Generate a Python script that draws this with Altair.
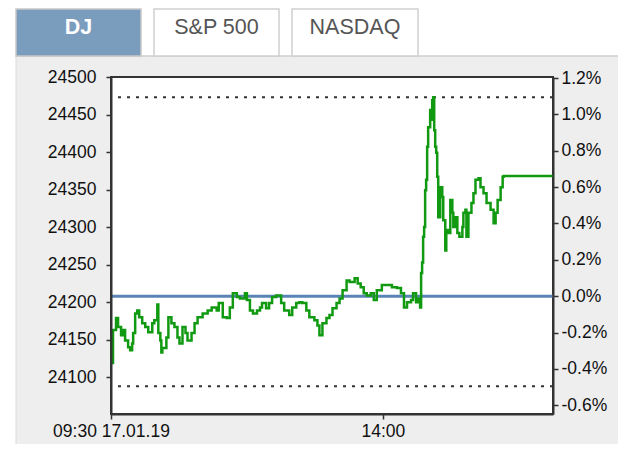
import altair as alt
import pandas as pd

# ---- data ----
minutes = [
    0, 1, 2, 5, 7, 10, 12, 14, 17, 19,
    21, 22, 24, 26, 28, 31, 34, 37, 41, 43,
    46, 47, 49, 50, 51, 55, 57, 60, 63, 66,
    68, 71, 74, 76, 80, 83, 86, 91, 96, 100,
    105, 107, 111, 115, 118, 121, 125, 128, 133, 135,
    138, 141, 145, 148, 150, 154, 157, 160, 164, 169,
    172, 177, 180, 184, 187, 190, 194, 197, 202, 205,
    207, 210, 214, 217, 220, 224, 227, 230, 234, 237,
    242, 245, 248, 251, 254, 258, 261, 264, 269, 274,
    279, 284, 288, 291, 294, 298, 300, 303, 305, 307,
    308, 309, 310, 311, 312, 313, 314, 315, 317, 318,
    319, 320, 321, 322, 323, 324, 325, 327, 329, 330,
    332, 333, 335, 337, 339, 340, 342, 344, 346, 349,
    350, 352, 353, 355, 358, 360, 362, 365, 367, 370,
    373, 377, 380, 382, 384, 387, 389, 390,
]
index_values = [
    24160, 24119, 24163, 24179, 24167, 24156, 24163, 24149, 24140, 24136,
    24145, 24159, 24185, 24189, 24180, 24172, 24167, 24160, 24172, 24176,
    24197, 24159, 24149, 24133, 24139, 24153, 24180, 24172, 24167, 24153,
    24145, 24167, 24159, 24149, 24159, 24172, 24180, 24185, 24189, 24193,
    24189, 24199, 24180, 24179, 24193, 24212, 24207, 24205, 24212, 24203,
    24189, 24185, 24189, 24193, 24199, 24192, 24199, 24207, 24209, 24199,
    24189, 24183, 24193, 24199, 24200, 24199, 24189, 24180, 24176, 24169,
    24156, 24172, 24179, 24183, 24192, 24199, 24205, 24216, 24229, 24227,
    24232, 24225, 24220, 24212, 24209, 24212, 24203, 24216, 24223, 24223,
    24220, 24219, 24212, 24193, 24200, 24203, 24212, 24200, 24205, 24193,
    24239, 24253, 24287, 24300, 24349, 24363, 24407, 24433, 24456, 24443,
    24469, 24473, 24429, 24407, 24399, 24367, 24313, 24353, 24340, 24309,
    24269, 24296, 24292, 24336, 24319, 24300, 24313, 24292, 24287, 24300,
    24319, 24323, 24287, 24319, 24332, 24345, 24363, 24365, 24353, 24345,
    24332, 24323, 24305, 24319, 24336, 24353, 24367, 24368,
]
base_value = 24208          # previous close (0.0 % line)
day_high = 24473
day_low = 24088
axis_end_minute = 439       # right end of the time axis
y_domain = [24051, 24500]
left_ticks = [24100, 24150, 24200, 24250, 24300, 24350, 24400, 24450, 24500]
pct_ticks = [-0.6, -0.4, -0.2, 0.0, 0.2, 0.4, 0.6, 0.8, 1.0, 1.2]
time_ticks = [0, 270]
time_labels = ["09:30 17.01.19", "14:00"]
tab_names = ["DJ", "S&P 500", "NASDAQ"]

# ---- build ----
W, H = 442, 337
FONT = "Liberation Sans"
LFS = 17.5
TXT = "#111111"

line_df = pd.DataFrame({
    "minute": minutes + [axis_end_minute],
    "value": index_values + [index_values[-1]],
})
levels_df = pd.DataFrame({"level": [day_high, day_low]})
pct_domain = [(y_domain[0] / base_value - 1) * 100, (y_domain[1] / base_value - 1) * 100]

one = pd.DataFrame({"k": [0]})


def box(x, x2, y, y2, fill, stroke=None, sw=1.5):
    kw = {"fill": fill}
    if stroke:
        kw.update(stroke=stroke, strokeWidth=sw)
    return alt.Chart(one).mark_rect(**kw).encode(
        x=alt.value(x), x2=alt.value(x2), y=alt.value(y), y2=alt.value(y2))


def hline(x, x2, y, color, sw=1.5):
    return alt.Chart(one).mark_rule(color=color, strokeWidth=sw).encode(
        x=alt.value(x), x2=alt.value(x2), y=alt.value(y))


def vline(x, y, y2, color, sw=1.5):
    return alt.Chart(one).mark_rule(color=color, strokeWidth=sw).encode(
        x=alt.value(x), y=alt.value(y), y2=alt.value(y2))


def tab_text(name, x, color, weight):
    return alt.Chart(pd.DataFrame({"name": [name]})).mark_text(
        font=FONT, fontSize=21.5, color=color, fontWeight=weight,
        align="center", baseline="alphabetic").encode(
        text="name:N", x=alt.value(x), y=alt.value(-43))


decor = [
    box(-103, 507, -69, -21, "white"),
    box(-103, -95, -21, 367, "white"),
    hline(-95, 507, -21, "#cfcfcf"),
    vline(-95, -21, 367, "#dadada", 1),
    box(-95, 30, -68, -21, "#7a9cbd", "#c8c8c8"),
    box(43, 168, -68, -21, "white", "#cfcfcf"),
    box(181, 307, -68, -21, "white", "#cfcfcf"),
    tab_text(tab_names[0], -32.5, "white", "bold"),
    tab_text(tab_names[1], 105.5, "#555555", "normal"),
    tab_text(tab_names[2], 244, "#555555", "normal"),
]

label_expr_x = ("datum.value == %d ? '%s' : '%s'"
                % (time_ticks[0], time_labels[0], time_labels[1]))

x_enc = alt.X("minute:Q",
              scale=alt.Scale(domain=[0, axis_end_minute], nice=False, zero=False),
              axis=alt.Axis(values=time_ticks, labelExpr=label_expr_x, title=None,
                            grid=False, tickSize=5, labelPadding=3, labelFlush=False,
                            labelOverlap=False, labelFont=FONT, labelFontSize=LFS,
                            labelColor=TXT, tickColor="#333", domainColor="#333",
                            domainWidth=2, tickWidth=1.5, zindex=1))

y_scale = alt.Scale(domain=y_domain, nice=False, zero=False)
left_axis = alt.Axis(values=left_ticks, title=None, grid=False, tickSize=5,
                     labelPadding=10, labelFont=FONT, labelFontSize=LFS,
                     labelColor=TXT, tickColor="#333", domainColor="#333",
                     domainWidth=2, tickWidth=1.5, orient="left", zindex=1,
                     format="d")

line = alt.Chart(line_df).mark_line(color="#119a11", strokeWidth=2.5,
                                    interpolate="step-after").encode(
    x=x_enc,
    y=alt.Y("value:Q", scale=y_scale, axis=left_axis),
)

dotted = alt.Chart(levels_df).mark_rule(color="#333", strokeWidth=2,
                                        strokeDash=[3, 6]).encode(
    y=alt.Y("level:Q", scale=y_scale, axis=left_axis))

left = alt.layer(dotted, line)

baseline = alt.Chart(pd.DataFrame({"pct": [0.0]})).mark_rule(
    color="#5a83b6", strokeWidth=3).encode(
    y=alt.Y("pct:Q",
            scale=alt.Scale(domain=pct_domain, nice=False, zero=False),
            axis=alt.Axis(orient="right", values=pct_ticks, title=None, grid=False,
                          tickSize=5, labelPadding=3,
                          labelExpr="(datum.value < -0.001 ? '-' : '') + format(abs(datum.value), '.1f') + '%'",
                          labelFont=FONT, labelFontSize=LFS, labelColor=TXT,
                          tickColor="#333", domainColor="#333", domainWidth=2,
                          tickWidth=1.5, zindex=1)),
)

chart = alt.layer(*decor, baseline, left).resolve_scale(y="independent").properties(
    width=W, height=H,
    autosize=alt.AutoSizeParams(type="none"),
    padding={"left": 103, "top": 69, "right": 65, "bottom": 30},
).configure(background="#eeeeee").configure_view(
    fill="white", stroke="#333", strokeWidth=2)

chart.save("out.html", embed_options={"renderer": "svg", "actions": False})
